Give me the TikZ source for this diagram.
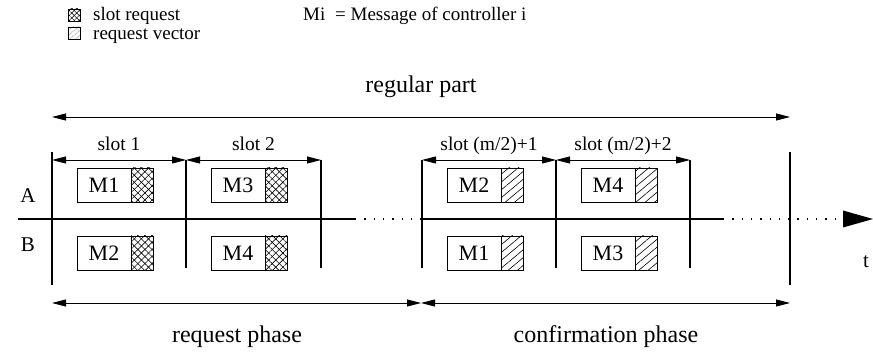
\documentclass[tikz,border=0pt]{standalone}
\usepackage{fontspec}
\setmainfont{Liberation Serif}
\usetikzlibrary{arrows.meta,patterns.meta,positioning}

\tikzset{
  dimarrow/.style={{Triangle[length=14pt,width=7pt]}-{Triangle[length=14pt,width=7pt]}, line width=0.9pt},
  slotline/.style={line width=1.3pt},
  dots/.style={line width=1.3pt, dash pattern=on 1.3pt off 8pt},
  msgbox/.style={draw, line width=0.9pt, outer sep=0pt, inner sep=0pt, minimum width=54pt, minimum height=34pt, font=\fontsize{22}{26}\selectfont},
  reqhatch/.style={draw, line width=0.9pt, outer sep=0pt, inner sep=0pt, minimum width=22pt, minimum height=34pt,
    pattern={Lines[angle=45,distance=5pt,line width=0.6pt]},
    postaction={pattern={Lines[angle=-45,distance=5pt,line width=0.6pt]}}},
  vechatch/.style={draw, line width=0.9pt, outer sep=0pt, inner sep=0pt, minimum width=22pt, minimum height=34pt,
    pattern={Lines[angle=40,distance=6pt,line width=0.6pt]}},
  keytext/.style={inner sep=0pt, anchor=base west, font=\fontsize{19}{22}\selectfont},
  slotlbl/.style={inner sep=0pt, anchor=base, font=\fontsize{19.5}{23}\selectfont},
  biglbl/.style={inner sep=0pt, anchor=base, font=\fontsize{24}{28}\selectfont},
  rowlbl/.style={inner sep=0pt, font=\fontsize{21}{25}\selectfont},
}

\begin{document}
\begin{tikzpicture}[x=1pt, y=-1pt]
\useasboundingbox (0,0) rectangle (873,352);

% legend
\node[draw, line width=0.7pt, minimum size=12pt, inner sep=0pt,
  pattern={Lines[angle=45,distance=3.5pt,line width=0.5pt]},
  postaction={pattern={Lines[angle=-45,distance=3.5pt,line width=0.5pt]}}] (keyreq) at (74,15) {};
\node[draw, line width=0.7pt, minimum size=12pt, inner sep=0pt,
  pattern={Lines[angle=40,distance=4pt,line width=0.5pt]}] (keyvec) at (74,33) {};
\node[keytext] (keyreqtxt) at (93,21) {slot request};
\node[keytext] (keyvectxt) at (93,40) {request vector};
\node[keytext] (keymi) at (303,21) {Mi};
\node[keytext] (keymitxt) at (335,21) {= Message of controller i};

% regular part
\coordinate (rp0) at (52,117);
\coordinate (rp1) at (790,117);
\draw[dimarrow] (rp0) -- (rp1);
\node[biglbl] (regular) at (421,93) {regular part};

% time axis
\coordinate (ax0) at (18,219);
\coordinate (ax1) at (355,219);
\coordinate (ax2) at (421,219);
\coordinate (ax3) at (723,219);
\coordinate (ax4) at (843,219);
\coordinate (ax5) at (873,219);
\draw[slotline] (ax0) -- (ax1);
\draw[dots] (ax1) -- (ax2);
\draw[slotline] (ax2) -- (ax3);
\draw[dots] (ax3) -- (ax4);
\fill (843,210.5) -- (ax5) -- (843,227.5) -- cycle;
\node[rowlbl] (taxis) at (866,262) {t};

\node[rowlbl] (rowA) at (28,196) {A};
\node[rowlbl] (rowB) at (28,245) {B};

% slot boundaries
\draw[slotline] (52,152) -- (52,285);
\draw[slotline] (186,160) -- (186,268);
\draw[slotline] (321,160) -- (321,268);
\draw[slotline] (422,160) -- (422,268);
\draw[slotline] (556,160) -- (556,268);
\draw[slotline] (690,160) -- (690,268);
\draw[slotline] (790,152) -- (790,285);

\coordinate (s1) at (52,160);
\coordinate (s2) at (186,160);
\coordinate (s3) at (321,160);
\coordinate (s4) at (422,160);
\coordinate (s5) at (556,160);
\coordinate (s6) at (690,160);
\draw[dimarrow] (s1) -- node[slotlbl, yshift=9pt] (slot1) {slot 1} (s2);
\draw[dimarrow] (s2) -- node[slotlbl, yshift=9pt] (slot2) {slot 2} (s3);
\draw[dimarrow] (s4) -- node[slotlbl, yshift=9pt] (slot3) {slot (m/2)+1} (s5);
\draw[dimarrow] (s5) -- node[slotlbl, yshift=9pt] (slot4) {slot (m/2)+2} (s6);

% messages, row A
\node[msgbox, anchor=north west] (a1) at (77,168) {M1};
\node[reqhatch, anchor=west] (a1h) at (a1.east) {};
\node[msgbox, anchor=north west] (a2) at (211,168) {M3};
\node[reqhatch, anchor=west] (a2h) at (a2.east) {};
\node[msgbox, anchor=north west] (a3) at (447,168) {M2};
\node[vechatch, anchor=west] (a3h) at (a3.east) {};
\node[msgbox, anchor=north west] (a4) at (581,168) {M4};
\node[vechatch, anchor=west] (a4h) at (a4.east) {};

% messages, row B
\node[msgbox, anchor=north west] (b1) at (77,236) {M2};
\node[reqhatch, anchor=west] (b1h) at (b1.east) {};
\node[msgbox, anchor=north west] (b2) at (211,236) {M4};
\node[reqhatch, anchor=west] (b2h) at (b2.east) {};
\node[msgbox, anchor=north west] (b3) at (447,236) {M1};
\node[vechatch, anchor=west] (b3h) at (b3.east) {};
\node[msgbox, anchor=north west] (b4) at (581,236) {M3};
\node[vechatch, anchor=west] (b4h) at (b4.east) {};

% phases
\coordinate (ph0) at (52,303);
\coordinate (ph1) at (421,303);
\coordinate (ph2) at (790,303);
\draw[dimarrow] (ph0) -- (ph1);
\draw[dimarrow] (ph1) -- (ph2);
\node[biglbl] (reqphase) at (237,343) {request phase};
\node[biglbl] (confphase) at (606,343) {confirmation phase};
\end{tikzpicture}
\end{document}
